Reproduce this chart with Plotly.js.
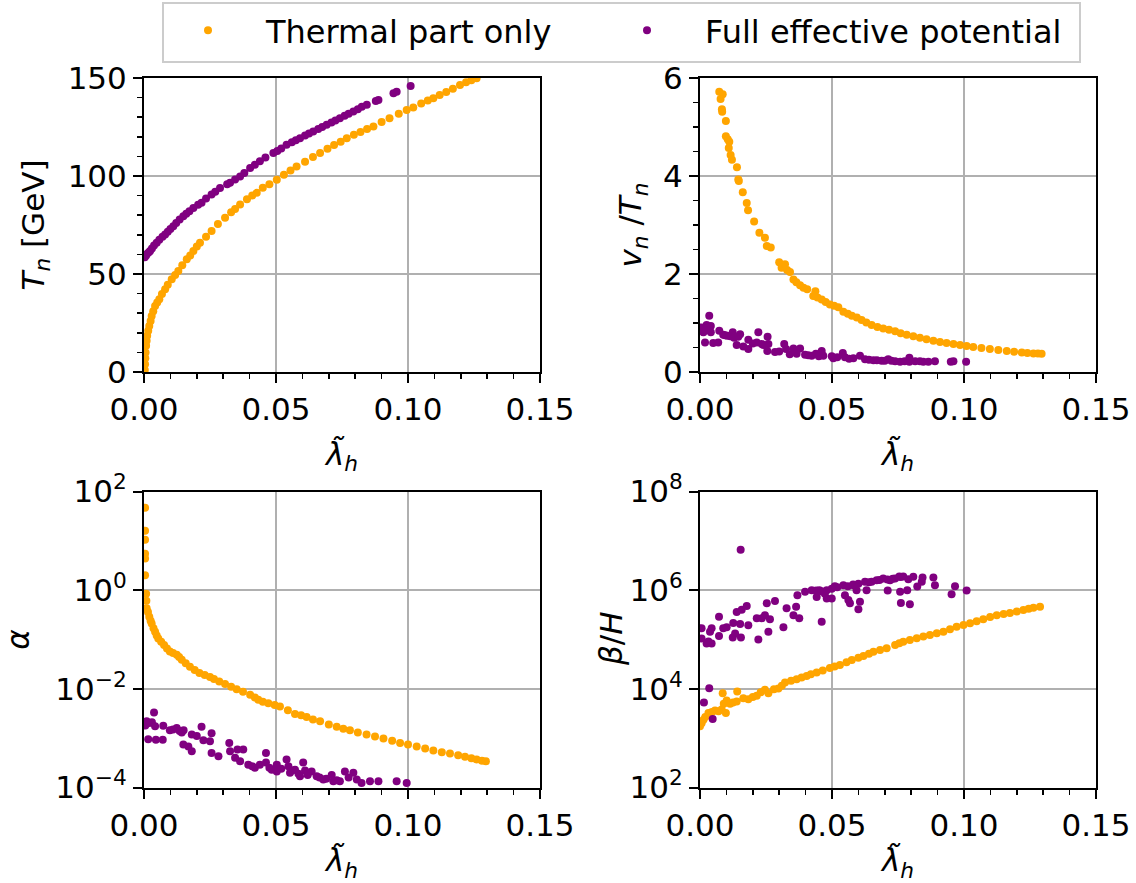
<!DOCTYPE html>
<html>
<head>
<meta charset="utf-8">
<script src="https://cdn.plot.ly/plotly-3.0.1.min.js"></script>
<style>html,body{margin:0;padding:0;background:#fff;}#chart{width:1136px;height:883px;}</style>
</head>
<body>
<div id="chart"></div>
<script>
// ---------- data ----------
const seriesNames = ["Thermal part only", "Full effective potential"];
const xTickVals = [0, 0.05, 0.10, 0.15];
const xTickText = ["0.00", "0.05", "0.10", "0.15"];
const tnTickVals = [0, 50, 100, 150];
const vtTickVals = [0, 2, 4, 6];
const alTickVals = [1e-4, 1e-2, 1, 1e2];
const alTickText = ["10<sup>−4</sup>", "10<sup>−2</sup>", "10<sup>0</sup>", "10<sup>2</sup>"];
const bhTickVals = [1e2, 1e4, 1e6, 1e8];
const bhTickText = ["10<sup>2</sup>", "10<sup>4</sup>", "10<sup>6</sup>", "10<sup>8</sup>"];

// T_n [GeV]
const tnThermX = [0.0003,0.0004,0.0005,0.0006,0.0008,0.0010,0.0012,0.0016,0.0020,0.0025,0.0029,0.0035,0.0042,0.0050,0.0058,0.0068,0.0080,0.0090,0.0105,0.0118,0.0130,0.0145,0.0162,0.0175,0.0187,0.0200,0.0212,0.0235,0.0256,0.0280,0.0307,0.0330,0.0345,0.0364,0.0390,0.0410,0.0427,0.0450,0.0475,0.0503,0.0530,0.0555,0.0578,0.0610,0.0640,0.0667,0.0695,0.0720,0.0745,0.0768,0.0795,0.0820,0.0845,0.0869,0.0900,0.0930,0.0965,0.0995,0.1020,0.1050,0.1075,0.1096,0.1120,0.1145,0.1170,0.1197,0.1220,0.1240,0.1260];
const tnThermY = [1,4,7,10,13.4,16,18.5,21,23.5,26,28.6,31,33.7,35.5,37.1,39.8,42.2,44.5,47.3,49.5,51.5,54.5,57.5,59.5,61.7,64,66,69,71.9,75.5,78.7,81.5,83.2,85.4,88.2,90,91.4,94,95.8,98.1,100.6,102.8,104.9,107.3,109.7,111.7,113.9,115.8,117.5,119.3,121,122.5,124,125.2,127.5,129.5,131.7,133.7,135,137,138.5,139.7,141.3,142.8,144.5,146.4,147.8,148.8,149.9];
const tnFullX = [0.0003,0.0008,0.0013,0.0018,0.0023,0.0030,0.0038,0.0048,0.0058,0.0070,0.0080,0.0090,0.0100,0.0111,0.0122,0.0135,0.0149,0.0160,0.0172,0.0187,0.0205,0.0218,0.0235,0.0256,0.0270,0.0288,0.0315,0.0326,0.0345,0.0364,0.0380,0.0402,0.0420,0.0439,0.0460,0.0490,0.0505,0.0520,0.0540,0.0560,0.0575,0.0591,0.0610,0.0625,0.0641,0.0660,0.0675,0.0692,0.0710,0.0725,0.0742,0.0760,0.0775,0.0793,0.0810,0.0825,0.0844,0.0878,0.0888,0.0945,0.0957,0.1010];
const tnFullY = [58.5,59.5,60.5,61,61.7,63,64.5,66,67.5,69,70.2,71.5,73,74.4,76,77.8,79.5,80.8,82,83.7,85.3,86.3,88.5,90.5,92,93.9,95.8,96.5,98.2,99.8,101.5,104.1,105.8,107.5,109.5,111.7,112.8,114,115.9,117.2,118.2,119.3,120.6,121.7,122.7,124,125,126.1,127.3,128.3,129.5,130.7,131.7,132.9,134,135.3,136.3,138.3,138.8,142.2,143,145.9];

// v_n / T_n
const vtThermX = [0.0073,0.0086,0.0078,0.0083,0.0084,0.0098,0.0098,0.0105,0.0111,0.0109,0.0116,0.0121,0.0140,0.0145,0.0147,0.0162,0.0177,0.0182,0.0205,0.0225,0.0246,0.0253,0.0268,0.0300,0.0309,0.0322,0.0330,0.0341,0.0354,0.0365,0.0379,0.0392,0.0406,0.0437,0.0429,0.0445,0.0461,0.0476,0.0492,0.0508,0.0524,0.0543,0.0560,0.0575,0.0594,0.0612,0.0630,0.0650,0.0672,0.0694,0.0716,0.0739,0.0760,0.0783,0.0808,0.0833,0.0858,0.0884,0.0909,0.0934,0.0960,0.0985,0.1010,0.1035,0.1066,0.1098,0.1130,0.1162,0.1190,0.1219,0.1240,0.1263,0.1280,0.1294];
const vtThermY = [5.72,5.67,5.57,5.36,5.31,5.12,4.81,4.75,4.70,4.57,4.43,4.33,4.18,3.93,3.90,3.67,3.45,3.30,3.07,2.84,2.74,2.57,2.54,2.24,2.13,2.20,2.08,2.04,1.89,1.83,1.77,1.72,1.69,1.65,1.55,1.52,1.48,1.43,1.38,1.35,1.32,1.23,1.19,1.15,1.11,1.06,1.01,0.96,0.92,0.89,0.86,0.83,0.79,0.76,0.73,0.70,0.67,0.64,0.61,0.59,0.57,0.55,0.53,0.51,0.49,0.47,0.45,0.43,0.415,0.40,0.39,0.38,0.375,0.37];
const vtFullX = [0.0006,0.0013,0.0025,0.0035,0.0041,0.0041,0.0019,0.0050,0.0069,0.0073,0.0088,0.0103,0.0124,0.0129,0.0152,0.0139,0.0164,0.0183,0.0183,0.0221,0.0215,0.0234,0.0256,0.0259,0.0255,0.0284,0.0319,0.0326,0.0354,0.0366,0.0379,0.0398,0.0423,0.0439,0.0461,0.0467,0.0499,0.0505,0.0541,0.0549,0.0581,0.0606,0.0625,0.0657,0.0688,0.0713,0.0739,0.0758,0.0793,0.0793,0.0833,0.0846,0.0890,0.0960,0.1008,0.0010,0.0030,0.0095,0.0115,0.0145,0.0200,0.0240,0.0300,0.0340,0.0410,0.0450,0.0520,0.0565,0.0640,0.0670,0.0700,0.0725,0.0775,0.0815,0.0865,0.0950];
const vtFullY = [0.91,0.81,0.96,1.15,0.94,0.81,0.60,0.59,0.60,0.84,0.76,0.74,0.81,0.70,0.77,0.55,0.52,0.47,0.66,0.81,0.60,0.57,0.72,0.57,0.43,0.41,0.57,0.47,0.48,0.37,0.48,0.35,0.33,0.37,0.43,0.33,0.32,0.28,0.39,0.30,0.28,0.33,0.26,0.24,0.23,0.26,0.22,0.21,0.29,0.21,0.22,0.21,0.22,0.22,0.21,0.88,0.86,0.75,0.73,0.72,0.58,0.55,0.42,0.36,0.34,0.32,0.30,0.27,0.25,0.24,0.23,0.23,0.22,0.22,0.21,0.21];

// alpha
const alThermX = [0.0004,0.0004,0.0004,0.0004,0.0004,0.0004,0.0008,0.0009,0.0010,0.0015,0.0020,0.0025,0.0029,0.0036,0.0042,0.0048,0.0054,0.0065,0.0076,0.0087,0.0098,0.0110,0.0124,0.0133,0.0143,0.0158,0.0174,0.0192,0.0210,0.0230,0.0250,0.0265,0.0285,0.0307,0.0330,0.0351,0.0375,0.0402,0.0420,0.0433,0.0450,0.0471,0.0495,0.0515,0.0545,0.0572,0.0595,0.0616,0.0640,0.0667,0.0700,0.0730,0.0755,0.0780,0.0810,0.0843,0.0875,0.0907,0.0940,0.0970,0.1000,0.1033,0.1065,0.1096,0.1128,0.1159,0.1190,0.1216,0.1240,0.1260,0.1280,0.1295];
const alThermY = [46.8,16,10.5,5.5,4.4,2.0,0.85,0.61,0.43,0.36,0.29,0.24,0.21,0.17,0.144,0.12,0.105,0.09,0.077,0.066,0.057,0.053,0.049,0.044,0.039,0.033,0.028,0.024,0.021,0.019,0.0173,0.0158,0.014,0.0126,0.011,0.0098,0.0087,0.0076,0.0067,0.006,0.0055,0.0051,0.0047,0.0044,0.0037,0.0031,0.0029,0.0027,0.0024,0.0022,0.0019,0.0017,0.00155,0.00144,0.0013,0.00118,0.00108,0.00098,0.00089,0.0008,0.00074,0.00068,0.00062,0.00056,0.00052,0.00049,0.00045,0.00042,0.00039,0.00037,0.00035,0.00034];
const alFullX = [0.0010,0.0020,0.0038,0.0042,0.0016,0.0045,0.0071,0.0073,0.0098,0.0124,0.0143,0.0150,0.0181,0.0218,0.0225,0.0250,0.0256,0.0149,0.0168,0.0181,0.0256,0.0282,0.0323,0.0326,0.0354,0.0376,0.0364,0.0395,0.0420,0.0439,0.0462,0.0462,0.0484,0.0503,0.0503,0.0540,0.0547,0.0553,0.0572,0.0591,0.0603,0.0610,0.0635,0.0654,0.0679,0.0711,0.0717,0.0742,0.0761,0.0793,0.0806,0.0824,0.0856,0.0888,0.0957,0.0995,0.0005,0.0030,0.0110,0.0135,0.0200,0.0345,0.0410,0.0475,0.0520,0.0560,0.0585,0.0620,0.0665,0.0690,0.0730,0.0775];
const alFullY = [0.0022,0.00204,0.0033,0.00174,0.00095,0.00093,0.00093,0.00178,0.00144,0.0016,0.0013,0.00144,0.00118,0.0017,0.00091,0.00087,0.00126,0.00074,0.00068,0.00054,0.0005,0.00043,0.0008,0.00054,0.00059,0.00059,0.00034,0.00029,0.00025,0.00029,0.0005,0.00032,0.00023,0.00029,0.00021,0.00037,0.00027,0.0002,0.00023,0.00017,0.00032,0.00022,0.00021,0.00017,0.000145,0.00018,0.000134,0.000134,0.00021,0.0002,0.000145,0.000124,0.000134,0.000134,0.000134,0.000124,0.0018,0.0021,0.0015,0.0014,0.0011,0.0004,0.00027,0.00025,0.00024,0.00022,0.00019,0.00018,0.00016,0.00015,0.00014,0.00016];

// beta / H
const bhThermX = [0.0000,0.0006,0.0013,0.0020,0.0032,0.0045,0.0057,0.0070,0.0082,0.0098,0.0086,0.0090,0.0101,0.0114,0.0125,0.0139,0.0141,0.0164,0.0183,0.0200,0.0215,0.0230,0.0246,0.0259,0.0280,0.0297,0.0310,0.0322,0.0345,0.0366,0.0385,0.0404,0.0420,0.0442,0.0465,0.0492,0.0510,0.0530,0.0555,0.0575,0.0600,0.0619,0.0640,0.0657,0.0682,0.0707,0.0739,0.0755,0.0770,0.0795,0.0821,0.0846,0.0871,0.0897,0.0922,0.0947,0.0972,0.0998,0.1023,0.1048,0.1073,0.1099,0.1124,0.1150,0.1174,0.1200,0.1225,0.1245,0.1263,0.1288];
const bhThermY = [1740,2000,2350,2700,3230,3400,3630,3500,3800,3230,8130,5000,5800,4970,5300,5540,8870,6430,6160,6800,7200,8500,9560,8130,9800,10200,11500,13400,14500,15700,17000,18300,19800,21400,23500,26300,28500,30400,34500,38600,42500,46500,51500,56700,61500,66500,77800,84000,90500,98000,106000,115000,124000,134000,144000,162000,182000,197000,213000,234000,256000,285000,311000,328000,345000,370000,395000,420000,440000,460000];
const bhFullX = [0.0154,0.0006,0.0044,0.0038,0.0006,0.0032,0.0044,0.0025,0.0072,0.0072,0.0088,0.0101,0.0126,0.0124,0.0133,0.0152,0.0155,0.0139,0.0158,0.0177,0.0183,0.0221,0.0215,0.0234,0.0246,0.0265,0.0259,0.0253,0.0284,0.0316,0.0328,0.0354,0.0364,0.0369,0.0376,0.0398,0.0423,0.0442,0.0452,0.0461,0.0473,0.0480,0.0499,0.0499,0.0511,0.0543,0.0549,0.0562,0.0568,0.0581,0.0593,0.0600,0.0606,0.0625,0.0631,0.0650,0.0669,0.0694,0.0711,0.0720,0.0739,0.0755,0.0758,0.0761,0.0785,0.0789,0.0795,0.0808,0.0823,0.0840,0.0843,0.0884,0.0890,0.0953,0.0966,0.1010,0.0035,0.0015,0.0048,0.0520,0.0560,0.0580,0.0600,0.0640,0.0680,0.0710,0.0730,0.0760,0.0770,0.0460,0.0480,0.0440];
const bhFullY = [6.6e6,1.7e5,1.7e5,1.44e5,1.05e5,9.1e4,8.3e4,8.3e4,2.9e5,1.18e5,1.7e5,1.78e5,2.15e5,1.1e5,1.32e5,2.05e5,1.1e5,3.6e5,4.0e5,4.8e5,1.95e5,1.0e5,2.7e5,2.7e5,3.1e5,2.56e5,1.44e5,5.4e5,6.0e5,1.78e5,4.3e5,3.1e5,4.6e5,7.9e5,2.7e5,9.3e5,1.0e6,7.3e5,1.0e6,2.3e5,8.5e5,6.8e5,1.07e6,6.8e5,1.2e6,1.26e6,7.9e5,6.3e5,5.4e5,1.26e6,1.0e6,4.1e5,5.8e5,1.48e6,1.0e6,1.48e6,1.58e6,1.73e6,9.8e5,1.58e6,1.73e6,1.9e6,9.3e5,5.5e5,1.0e6,1.66e6,5.2e5,1.86e6,1.18e6,1.48e6,1.8e6,1.8e6,1.26e6,8.3e5,1.2e6,9.8e5,10300,5300,2450,1.15e6,1.2e6,1.3e6,1.35e6,1.45e6,1.6e6,1.65e6,1.7e6,1.85e6,1.9e6,9.5e5,1.0e6,9.8e5];

// ---------- styles ----------
const ORANGE = "#FFA500", PURPLE = "#800080";
const FONT = "DejaVu Sans";
const W = 1136, H = 883;
const xDomL = [144 / W, 540 / W], xDomR = [700 / W, 1096 / W];
const yDomT = [1 - 372 / H, 1 - 78 / H], yDomB = [1 - 787.5 / H, 1 - 491.5 / H];
const MS = 8;

function pts(x, y, color, name, xa, ya, show, legendId) {
  return {type: "scatter", mode: "markers", x: x, y: y, xaxis: xa, yaxis: ya,
    name: name, showlegend: show, legend: legendId,
    marker: {color: color, size: MS, line: {width: 0}}, hoverinfo: "x+y"};
}
const data = [
  pts(tnThermX, tnThermY, ORANGE, seriesNames[0], "x", "y", true, "legend"),
  pts(tnFullX, tnFullY, PURPLE, seriesNames[1], "x", "y", true, "legend2"),
  pts(vtThermX, vtThermY, ORANGE, seriesNames[0], "x2", "y2", false, "legend"),
  pts(vtFullX, vtFullY, PURPLE, seriesNames[1], "x2", "y2", false, "legend2"),
  pts(alThermX, alThermY, ORANGE, seriesNames[0], "x3", "y3", false, "legend"),
  pts(alFullX, alFullY, PURPLE, seriesNames[1], "x3", "y3", false, "legend2"),
  pts(bhThermX, bhThermY, ORANGE, seriesNames[0], "x4", "y4", false, "legend"),
  pts(bhFullX, bhFullY, PURPLE, seriesNames[1], "x4", "y4", false, "legend2")
];

const common = {
  showline: true, mirror: true, linecolor: "black", linewidth: 2,
  ticks: "outside", ticklen: 9, tickwidth: 2, tickcolor: "black",
  showgrid: true, gridcolor: "#b0b0b0", gridwidth: 2, zeroline: false,
  automargin: false, tickfont: {family: FONT, size: 31, color: "black"}
};
const xTitle = "<i>λ̃</i><sub><i>h</i></sub>";
function xAxis(domain, anchor) {
  return Object.assign({}, common, {
    domain: domain, anchor: anchor, range: [0, 0.15],
    tickmode: "array", tickvals: xTickVals, ticktext: xTickText,
    minor: {dtick: 0.01, tick0: 0, ticks: "outside", ticklen: 5, tickwidth: 1.5, tickcolor: "black", showgrid: false},
    title: {text: xTitle, standoff: 17, font: {family: FONT, size: 31, color: "black"}}
  });
}
function yAxis(domain, anchor, extra, title, standoff) {
  return Object.assign({}, common, {domain: domain, anchor: anchor,
    title: {text: title, standoff: standoff, font: {family: FONT, size: 31, color: "black"}}}, extra);
}
function legendAt(leftPx) {
  return {orientation: "h", x: leftPx / W, xanchor: "left", y: 1 - 3 / H, yanchor: "top",
    borderwidth: 0, bgcolor: "rgba(0,0,0,0)",
    font: {family: FONT, size: 32, color: "black"}, itemwidth: 106, itemclick: false};
}

const layout = {
  width: W, height: H,
  margin: {l: 0, r: 0, t: 0, b: 0, pad: 0},
  paper_bgcolor: "white", plot_bgcolor: "white",
  font: {family: FONT, size: 31, color: "black"},
  showlegend: true,
  legend: legendAt(150),
  legend2: legendAt(589),
  shapes: [{type: "rect", xref: "paper", yref: "paper",
    x0: 163 / W, x1: 1080 / W, y0: 1 - 62 / H, y1: 1 - 3 / H,
    line: {color: "#cccccc", width: 2}, fillcolor: "white", layer: "below"}],
  annotations: [{text: "<i>β</i>/<i>H</i>", xref: "paper", yref: "paper",
    x: 611 / W, y: 1 - 639 / H, xanchor: "center", yanchor: "middle", textangle: -90,
    showarrow: false, font: {family: FONT, size: 31, color: "black"}}],
  xaxis: xAxis(xDomL, "y"),
  yaxis: yAxis(yDomT, "x", {range: [0, 150], tickmode: "array", tickvals: tnTickVals,
    minor: {dtick: 10, tick0: 0, ticks: "outside", ticklen: 5, tickwidth: 1.5, tickcolor: "black", showgrid: false}},
    "<i>T</i><sub><i>n</i></sub> [GeV]", 14),
  xaxis2: xAxis(xDomR, "y2"),
  yaxis2: yAxis(yDomT, "x2", {range: [0, 6], tickmode: "array", tickvals: vtTickVals,
    minor: {dtick: 0.5, tick0: 0, ticks: "outside", ticklen: 5, tickwidth: 1.5, tickcolor: "black", showgrid: false}},
    "<i>v</i><sub><i>n</i></sub> /<i>T</i><sub><i>n</i></sub>", 12),
  xaxis3: xAxis(xDomL, "y3"),
  yaxis3: yAxis(yDomB, "x3", {type: "log", range: [-4, 2], tickmode: "array", tickvals: alTickVals, ticktext: alTickText},
    "<i>α</i>", 22),
  xaxis4: xAxis(xDomR, "y4"),
  yaxis4: Object.assign({}, common, {domain: yDomB, anchor: "x4", type: "log", range: [2, 8],
    tickmode: "array", tickvals: bhTickVals, ticktext: bhTickText})
};

Plotly.newPlot("chart", data, layout, {displayModeBar: false, staticPlot: true});
</script>
</body>
</html>
